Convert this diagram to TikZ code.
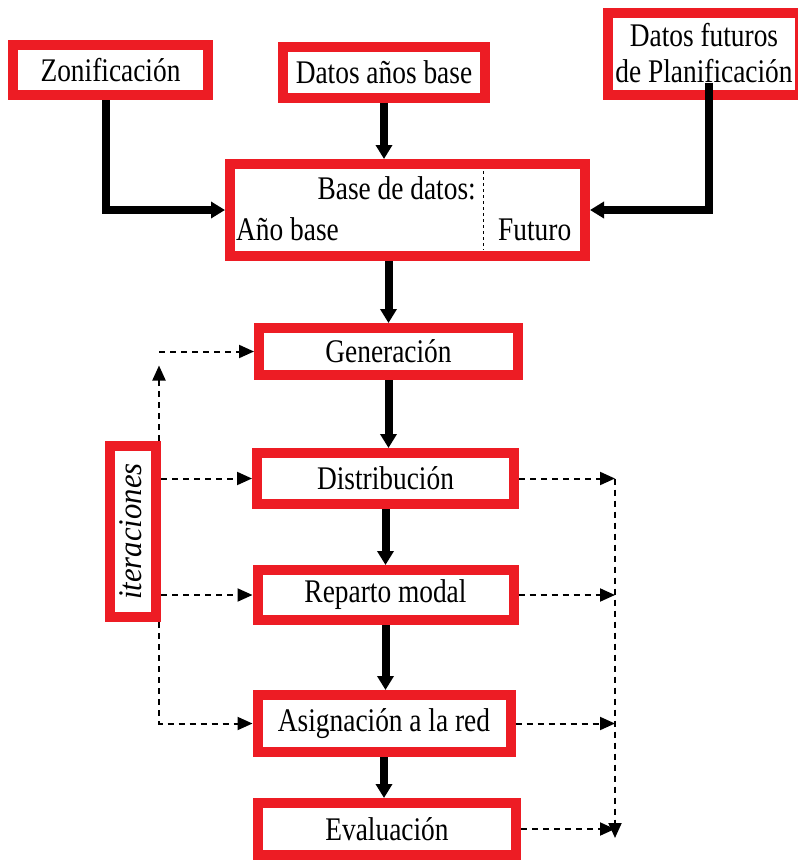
\documentclass[tikz,border=0pt]{standalone}
\usepackage{fontspec}
\setmainfont{Liberation Serif}[FakeStretch=0.83]
\newfontfamily\iterfont{Liberation Serif}[FakeStretch=0.93]
\usetikzlibrary{arrows.meta}
\definecolor{boxred}{RGB}{237,28,36}

\begin{document}
\begin{tikzpicture}[x=1pt,y=-1pt,
		box/.style={draw=boxred,line width=10pt,fill=white,inner sep=0pt,font=\fontsize{33}{36}\selectfont},
		txt/.style={inner sep=0pt,font=\fontsize{33}{36}\selectfont},
		flow/.style={line width=8pt,-{Triangle[length=14pt,width=16pt]}},
		iter/.style={line width=2pt,dash pattern=on 6pt off 5pt,-{Triangle[length=15pt,width=13pt]}}]
		\useasboundingbox (0,0) rectangle (798,860);
		\node[box,minimum width=195pt,minimum height=50pt] (zon) at (110.5,70) {Zonificación};
		\node[box,minimum width=202pt,minimum height=51pt] (anb) at (384,72.5) {Datos años base};
		\node[box,minimum width=192pt,minimum height=82pt,align=center] (fut) at (704,53.5) {Datos futuros\\de Planificación};
		\node[box,minimum width=355pt,minimum height=92pt] (db) at (407.5,210) {};
		\node[txt,anchor=base east] (dbt) at (476,199) {Base de datos:};
		\node[txt,anchor=base west] (dba) at (236,240) {Año base};
		\node[txt,anchor=base west] (dbf) at (498,240) {Futuro};
		\draw[dashed,line width=0.8pt] (483,171) -- (483,250);
		\node[box,minimum width=259pt,minimum height=47pt] (gen) at (388.5,351.5) {Generación};
		\node[box,minimum width=257pt,minimum height=51pt] (dis) at (385.5,478.5) {Distribución};
		\node[box,minimum width=256pt,minimum height=50pt] (rep) at (385.5,595) {Reparto modal};
		\node[box,minimum width=253pt,minimum height=57pt] (asi) at (384,723.5) {Asignación a la red};
		\node[box,minimum width=258pt,minimum height=52pt] (eva) at (387,829) {Evaluación};
		\node[box,minimum width=46pt,minimum height=171pt] (it) at (133,531.5) {};
		\node[txt,rotate=90,font=\fontsize{33}{36}\iterfont\itshape] (itt) at ([xshift=-2pt]it) {iteraciones};

		\draw[flow] ([xshift=-5pt]zon.south) |- (db.west);
		\draw[flow] (anb.south) -- (anb.south |- db.north);
		\draw[flow] ([xshift=5pt,yshift=17pt]fut.south) |- (db.east);
		\draw[flow] (db.south -| gen.north) -- (gen.north);
		\draw[flow] (gen.south) -- (gen.south |- dis.north);
		\draw[flow] (dis.south) -- (dis.south |- rep.north);
		\draw[flow] (rep.south) -- (rep.south |- asi.north);
		\draw[flow] (asi.south) -- (asi.south |- eva.north);

		\coordinate (ltop) at (159,351.5);
		\draw[iter] (it.north -| ltop) -- ([yshift=-14pt]ltop);
		\draw[iter] (ltop) -- (gen.west);
		\draw[iter] (it.east |- dis.west) -- (dis.west);
		\draw[iter] (it.east |- rep.west) -- (rep.west);
		\draw[iter] (it.south -| ltop) |- (asi.west);

		\coordinate (rtop) at (615,478.5);
		\coordinate (rbot) at (615,838);
		\draw[iter] (rtop) -- (rbot);
		\draw[iter] (dis.east) -- (rtop);
		\draw[iter] (rep.east) -- (rep.east -| rtop);
		\draw[iter] (asi.east) -- (asi.east -| rtop);
		\draw[iter] (eva.east) -- (eva.east -| rtop);
	\end{tikzpicture}
\end{document}
